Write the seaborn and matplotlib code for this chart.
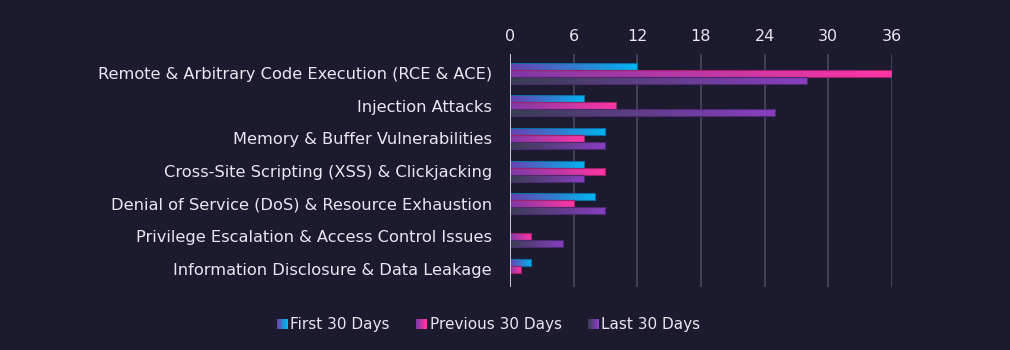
import numpy as np
import pandas as pd
import matplotlib
matplotlib.use("Agg")
import matplotlib.pyplot as plt
from matplotlib.colors import LinearSegmentedColormap
from matplotlib.patches import Rectangle
from matplotlib.legend_handler import HandlerBase
import seaborn as sns

categories = [
    "Remote & Arbitrary Code Execution (RCE & ACE)",
    "Injection Attacks",
    "Memory & Buffer Vulnerabilities",
    "Cross-Site Scripting (XSS) & Clickjacking",
    "Denial of Service (DoS) & Resource Exhaustion",
    "Privilege Escalation & Access Control Issues",
    "Information Disclosure & Data Leakage",
]
series_names = ["First 30 Days", "Previous 30 Days", "Last 30 Days"]
first_30 = [12, 7, 9, 7, 8, 0, 2]
previous_30 = [36, 10, 7, 9, 6, 2, 1]
last_30 = [28, 25, 9, 7, 9, 5, 0]
x_ticks = [0, 6, 12, 18, 24, 30, 36]

BG = "#1c1a2e"
TEXT = "#e8e6f0"
grads = {
    "First 30 Days": ("#6b3fae", "#00b6f2"),
    "Previous 30 Days": ("#7e3aa6", "#ff36a4"),
    "Last 30 Days": ("#383e52", "#8a3ec2"),
}
edges = {"First 30 Days": "#0a6fa0", "Previous 30 Days": "#a0226a", "Last 30 Days": "#4a2a70"}

df = pd.DataFrame({
    "category": np.repeat(categories, 3),
    "series": series_names * len(categories),
    "value": np.ravel(np.column_stack([first_30, previous_30, last_30])),
})

sns.set_theme(style="dark")
plt.rcParams["font.family"] = ["DejaVu Sans"]

fig = plt.figure(figsize=(10.1, 3.5), dpi=100, facecolor=BG)
ax = fig.add_axes([0.505, 0.18, 0.378, 0.667])
ax.set_facecolor(BG)

sns.barplot(data=df, y="category", x="value", hue="series", hue_order=series_names,
            order=categories, orient="h", width=0.64, ax=ax, legend=False,
            palette=[grads[s][1] for s in series_names], saturation=1)

YLIM = (len(categories) - 0.45, -0.6)

# gradient fill
for cont, s in zip(ax.containers, series_names):
    cmap = LinearSegmentedColormap.from_list(s, grads[s])
    grad = np.linspace(0, 1, 256).reshape(1, -1)
    for p in cont.patches:
        w = p.get_width()
        if w <= 0:
            p.set_visible(False)
            continue
        x0, y0 = p.get_x(), p.get_y()
        h = p.get_height()
        p.set_facecolor("none")
        p.set_edgecolor(edges[s])
        p.set_linewidth(0.8)
        im = ax.imshow(grad, cmap=cmap, aspect="auto", extent=[x0, x0 + w, y0 + h, y0],
                       zorder=2, interpolation="bilinear")
        im.set_clip_path(p)
        p.set_zorder(3)

ax.set_ylim(*YLIM)
ax.set_xlim(0, 36)

ax.xaxis.tick_top()
ax.set_xticks(x_ticks)
ax.set_xticklabels([str(t) for t in x_ticks])
ax.tick_params(axis="x", colors=TEXT, labelsize=11.5, length=0, pad=7)
ax.tick_params(axis="y", colors=TEXT, labelsize=11.7, length=0, pad=13)
for lab in ax.get_xticklabels() + ax.get_yticklabels():
    lab.set_color(TEXT)
ax.set_xlabel("")
ax.set_ylabel("")
ax.grid(axis="x", color="#4a4860", linewidth=1.2)
ax.grid(axis="y", visible=False)
ax.set_axisbelow(True)
for sp in ax.spines.values():
    sp.set_visible(False)
ax.axvline(0, color="#d8d6e0", linewidth=1.3, zorder=4)


class GradHandler(HandlerBase):
    def __init__(self, cols):
        super().__init__()
        self.cols = cols

    def create_artists(self, legend, orig_handle, xdescent, ydescent, width, height, fontsize, trans):
        cmap = LinearSegmentedColormap.from_list("g", self.cols)
        n = 8
        size = height * 1.0
        x0 = width - size
        arts = []
        for i in range(n):
            r = Rectangle((x0 + i * size / n - xdescent, -ydescent + (height - size) / 2),
                          size / n + 0.2, size, facecolor=cmap(i / (n - 1)),
                          edgecolor="none", transform=trans)
            arts.append(r)
        return arts


handles = [Rectangle((0, 0), 1, 1) for _ in series_names]
hmap = {h: GradHandler(grads[s]) for h, s in zip(handles, series_names)}
leg = fig.legend(handles, series_names, handler_map=hmap, loc="center",
                 bbox_to_anchor=(0.483, 0.072), ncol=3, frameon=False,
                 fontsize=11, handlelength=0.8, handletextpad=0.2, columnspacing=1.6,
                 labelcolor=TEXT)

fig.savefig("out.png", dpi=100, facecolor=BG)
